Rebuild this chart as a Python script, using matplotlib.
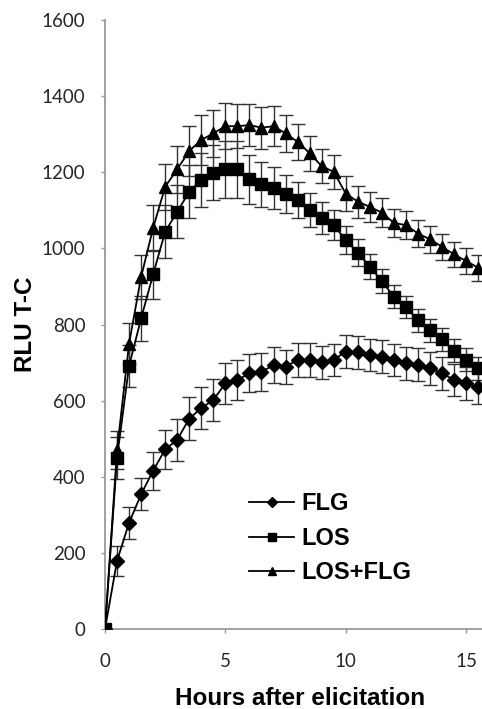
import matplotlib.pyplot as plt

# time points (hours after elicitation)
hours = [0, 0.5, 1, 1.5, 2, 2.5, 3, 3.5, 4, 4.5, 5, 5.5, 6, 6.5, 7, 7.5,
         8, 8.5, 9, 9.5, 10, 10.5, 11, 11.5, 12, 12.5, 13, 13.5, 14, 14.5, 15, 15.5]

flg = [0, 179, 279, 354, 416, 472, 497, 553, 580, 602, 645, 654, 672, 676, 693, 689,
       707, 707, 701, 707, 729, 727, 720, 715, 707, 698, 694, 685, 672, 654, 645, 635]
flg_err = [0, 40, 42, 42, 50, 52, 55, 57, 55, 55, 53, 53, 50, 50, 48, 45,
           45, 45, 43, 43, 43, 43, 43, 43, 43, 43, 43, 43, 43, 43, 43, 43]

los = [0, 450, 691, 816, 932, 1044, 1096, 1149, 1180, 1199, 1208, 1208, 1181, 1168, 1159, 1142,
       1127, 1101, 1079, 1061, 1022, 989, 952, 914, 873, 846, 811, 785, 761, 731, 707, 685]
los_err = [0, 55, 55, 60, 65, 70, 70, 70, 70, 72, 75, 75, 65, 60, 55, 50,
           48, 45, 42, 40, 36, 35, 33, 32, 30, 30, 30, 30, 30, 30, 30, 30]

los_flg = [0, 470, 750, 925, 1054, 1162, 1208, 1256, 1285, 1302, 1321, 1321, 1324, 1317, 1321, 1302,
           1280, 1250, 1216, 1201, 1144, 1123, 1109, 1094, 1067, 1061, 1039, 1024, 1004, 984, 967, 949]
los_flg_err = [0, 50, 55, 58, 60, 60, 62, 65, 65, 62, 60, 58, 55, 55, 52, 48,
               47, 46, 45, 45, 45, 42, 40, 38, 37, 36, 36, 35, 35, 34, 34, 34]

labels = ['FLG', 'LOS', 'LOS+FLG']
y_ticks = [0, 200, 400, 600, 800, 1000, 1200, 1400, 1600]
x_ticks = [0, 5, 10, 15]

fig = plt.figure(figsize=(4.82, 7.09), dpi=100)
ax = fig.add_axes([105 / 482, 80 / 709, 377 / 482, 609 / 709])

series = [(flg, flg_err, 'D', 6.8), (los, los_err, 's', 8.5), (los_flg, los_flg_err, '^', 9)]
handles = []
for (vals, err, mk, ms), lab in zip(series, labels):
    ax.errorbar(hours, vals, yerr=err, fmt='none', ecolor='#333333', elinewidth=1.0,
                capsize=5, capthick=1.0, zorder=2)
    h, = ax.plot(hours, vals, color='black', lw=1.3, marker=mk, ms=ms,
                 markerfacecolor='black', markeredgecolor='black', label=lab, zorder=3)
    handles.append(h)

ax.set_xlim(0, 15.66)
ax.set_ylim(0, 1600)
ax.set_xticks(x_ticks)
ax.set_yticks(y_ticks)

tick_font = {'family': 'Lato', 'size': 13.5}
ax.set_xticklabels([str(t) for t in x_ticks], fontdict=tick_font, color='#262626')
ax.set_yticklabels([str(t) for t in y_ticks], fontdict=tick_font, color='#262626')

for s in ['top', 'right']:
    ax.spines[s].set_visible(False)
for s in ['left', 'bottom']:
    ax.spines[s].set_color('#9a9a9a')
    ax.spines[s].set_linewidth(1.3)
ax.tick_params(direction='out', length=3, width=1, color='#9a9a9a')
ax.tick_params(axis='x', pad=14)
ax.tick_params(axis='y', pad=11)

ax.set_xlabel('Hours after elicitation', family='Liberation Sans', weight='bold', fontsize=17.5)
ax.xaxis.set_label_coords(0.517, -0.096)
ax.set_ylabel('RLU T-C', family='Liberation Sans', weight='bold', fontsize=17.5)
ax.yaxis.set_label_coords(-0.18, 0.5)

ax.legend(handles=handles, loc='upper left', bbox_to_anchor=(0.358, 1 - (483 - 20) / 609),
          frameon=False, prop={'family': 'Liberation Sans', 'weight': 'bold', 'size': 17},
          handlelength=1.9, handletextpad=0.3, labelspacing=0.48, markerscale=0.7,
          borderaxespad=0)

fig.savefig('out.png', dpi=100)
